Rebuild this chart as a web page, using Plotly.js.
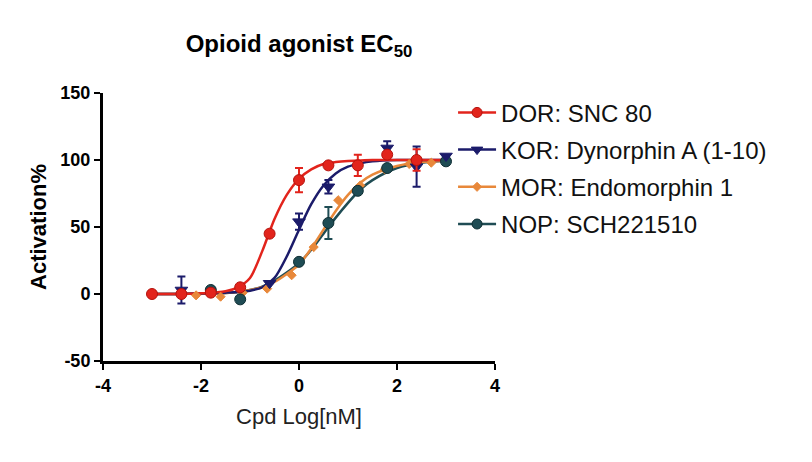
<!DOCTYPE html>
<html>
<head>
<meta charset="utf-8">
<script src="https://cdn.plot.ly/plotly-3.0.1.min.js"></script>
<style>html,body{margin:0;padding:0;background:#fff;}#chart{width:812px;height:462px;}</style>
</head>
<body>
<div id="chart"></div>
<script>
// Series names
var seriesNames = ["DOR: SNC 80", "KOR: Dynorphin A (1-10)", "MOR: Endomorphin 1", "NOP: SCH221510"];

// Measured points (log[nM], activation %, SEM)
var dorX = [-3, -2.4, -1.8, -1.2, -0.6, 0, 0.6, 1.2, 1.8, 2.4];
var dorY = [0, 0, 1, 5, 45, 85, 96, 96, 104, 100];
var dorErr = [0, 0, 0, 0, 0, 9, 0, 8, 0, 8];

var korX = [-2.4, -0.6, 0, 0.6, 1.8, 2.4, 3];
var korY = [3, 8, 54, 80, 109, 95, 103];
var korErr = [10, 0, 6, 5, 5, 15, 0];

var morX = [-2.1, -1.6, -1.15, -0.65, -0.15, 0.3, 0.8, 1.25, 1.75, 2.25, 2.7];
var morY = [-1, -2, 1, 4, 14, 35, 70, 81, 93, 97, 98];

var nopX = [-1.8, -1.2, 0, 0.6, 1.2, 1.8, 3];
var nopY = [3, -4, 24, 53, 77, 94, 99];
var nopErr = [0, 0, 0, 12, 0, 0, 0];

// Fitted curves
var curveX = [-3, -2.5, -2, -1.5, -1.25, -1, -0.75, -0.5, -0.25, 0, 0.25, 0.5, 0.75, 1, 1.25, 1.5, 2, 2.5, 3];
var dorCurve = [0, 0, 0.5, 2, 5, 12, 32, 56, 74, 86, 93, 97, 98.5, 99.3, 99.7, 100, 100, 100, 100];
var korCurve = [0, 0, 0.3, 1, 1.5, 2.5, 5, 12, 28, 48, 67, 81, 90, 95, 97.5, 99, 100, 100, 100];
var morCurve = [0, 0, 0.3, 0.8, 1.5, 3, 5, 9, 15, 22, 34, 48, 62, 74, 83, 89, 95.5, 98.5, 99.5];
var nopCurve = [0, 0, 0.3, 0.8, 1.5, 3, 5.5, 10, 16, 23, 33, 45, 57, 68, 78, 85, 94, 98, 99.5];

// Tick values
var xTicks = [-4, -2, 0, 2, 4];
var yTicks = [-50, 0, 50, 100, 150];

var colors = {dor: "#E2241C", kor: "#1B1B6A", mor: "#E8883A", nop: "#1F4C54"};
var FONT = "Arial, 'Liberation Sans', sans-serif";

function legendTrace(name, grp, color, symbol, size, lineColor) {
  return {x: [null], y: [null], type: "scatter", mode: "lines+markers", name: name,
    legendgroup: grp, showlegend: true,
    line: {color: color, width: 2.5},
    marker: {color: color, symbol: symbol, size: size, line: {color: lineColor, width: 1}}};
}
function curveTrace(y, grp, color) {
  return {x: curveX, y: y, type: "scatter", mode: "lines", legendgroup: grp, showlegend: false,
    line: {color: color, width: 2.5, shape: "spline", smoothing: 0.8}, hoverinfo: "skip"};
}
function pointTrace(x, y, err, grp, color, symbol, size, lineColor) {
  var t = {x: x, y: y, type: "scatter", mode: "markers", legendgroup: grp, showlegend: false,
    marker: {color: color, symbol: symbol, size: size, line: {color: lineColor, width: 1}}};
  if (err) {
    t.error_y = {type: "data", array: err, visible: true, color: color, thickness: 2, width: 4};
  }
  return t;
}

var data = [
  legendTrace(seriesNames[0], "dor", colors.dor, "circle", 10, "#B5120C"),
  legendTrace(seriesNames[1], "kor", colors.kor, "triangle-down", 10, colors.kor),
  legendTrace(seriesNames[2], "mor", colors.mor, "diamond", 7, colors.mor),
  legendTrace(seriesNames[3], "nop", colors.nop, "circle", 10, "#0E2E33"),
  curveTrace(nopCurve, "nop", colors.nop),
  curveTrace(morCurve, "mor", colors.mor),
  curveTrace(korCurve, "kor", colors.kor),
  curveTrace(dorCurve, "dor", colors.dor),
  pointTrace(morX, morY, null, "mor", colors.mor, "diamond", 7, colors.mor),
  pointTrace(nopX, nopY, nopErr, "nop", colors.nop, "circle", 11, "#0E2E33"),
  pointTrace(korX, korY, korErr, "kor", colors.kor, "triangle-down", 11, colors.kor),
  pointTrace(dorX, dorY, dorErr, "dor", colors.dor, "circle", 11, "#B5120C")
];

var layout = {
  width: 812, height: 462,
  margin: {l: 103, r: 317, t: 93, b: 101},
  paper_bgcolor: "#ffffff", plot_bgcolor: "#ffffff",
  font: {family: FONT, color: "#000"},
  showlegend: true,
  title: {text: "<b>Opioid agonist EC<sub>50</sub></b>", font: {family: FONT, size: 24, color: "#000"},
    xref: "paper", x: 0.5, xanchor: "center", yref: "container", y: 0.905, yanchor: "middle"},
  xaxis: {range: [-4, 4], tickvals: xTicks, ticktext: xTicks.map(String),
    showgrid: false, zeroline: false, showline: true, linecolor: "#000", linewidth: 3,
    ticks: "outside", ticklen: 6, tickwidth: 2, tickcolor: "#000",
    tickfont: {family: FONT, size: 18, color: "#000", weight: "bold"},
    title: {text: "Cpd Log[nM]", font: {family: FONT, size: 22, color: "#222"}, standoff: 15}},
  yaxis: {range: [-50, 150], tickvals: yTicks, ticktext: yTicks.map(String),
    showgrid: false, zeroline: false, showline: true, linecolor: "#000", linewidth: 3,
    ticks: "outside", ticklen: 6, tickwidth: 2, tickcolor: "#000",
    tickfont: {family: FONT, size: 18, color: "#000", weight: "bold"},
    title: {text: "<b>Activation%</b>", font: {family: FONT, size: 22, color: "#000"}, standoff: 8}},
  legend: {x: 0.893, xanchor: "left", y: 1.01, yanchor: "top", xref: "paper", yref: "paper",
    font: {family: FONT, size: 24, color: "#111"}, bgcolor: "rgba(0,0,0,0)",
    traceorder: "grouped", tracegroupgap: 3, itemwidth: 38}
};

Plotly.newPlot("chart", data, layout, {displayModeBar: false, staticPlot: true});
</script>
</body>
</html>
